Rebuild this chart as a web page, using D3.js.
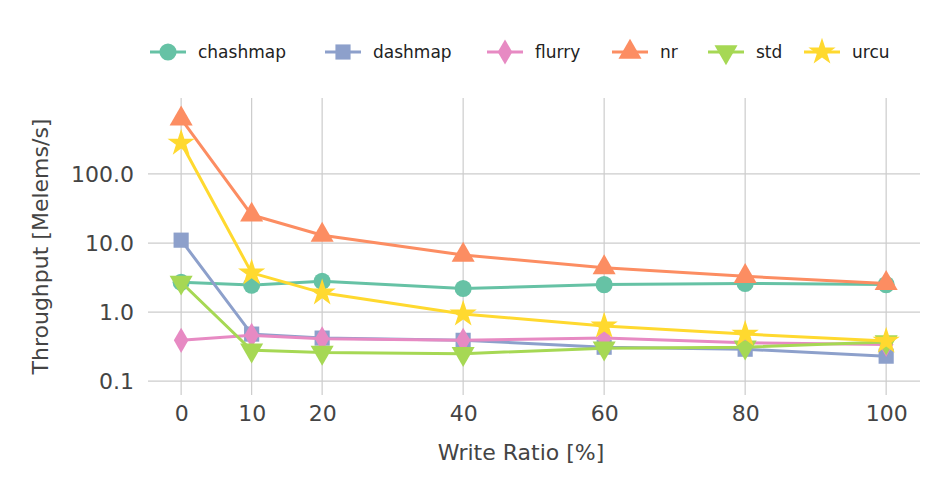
<!DOCTYPE html>
<html><head><meta charset="utf-8">
<script src="https://cdn.jsdelivr.net/npm/d3@7"></script>
<style>body{margin:0;background:#fff}text{font-family:"DejaVu Sans",sans-serif}</style>
</head><body><div id="chart"></div>
<script>
const ratios = [0, 10, 20, 40, 60, 80, 100];
const chashmap = [2.7, 2.46, 2.8, 2.2, 2.5, 2.6, 2.5];
const dashmap = [11, 0.48, 0.42, 0.39, 0.31, 0.29, 0.23];
const flurry = [0.39, 0.46, 0.41, 0.39, 0.42, 0.36, 0.34];
const nr = [630, 25.5, 13, 6.7, 4.4, 3.3, 2.6];
const std = [2.7, 0.28, 0.26, 0.25, 0.3, 0.31, 0.37];
const urcu = [280, 3.7, 1.9, 0.94, 0.63, 0.48, 0.38];
const yTicks = [0.1, 1, 10, 100];

const series = [
  {name: "chashmap", values: chashmap, color: "#66c2a5", sym: d3.symbolCircle},
  {name: "dashmap", values: dashmap, color: "#8da0cb", sym: d3.symbolSquare},
  {name: "flurry", values: flurry, color: "#e78ac3", sym: d3.symbolDiamond},
  {name: "nr", values: nr, color: "#fc8d62", sym: d3.symbolTriangle},
  {name: "std", values: std, color: "#a6d854", sym: "down"},
  {name: "urcu", values: urcu, color: "#ffd92f", sym: d3.symbolStar}
];

const width = 951, height = 494;
const margin = {top: 98, right: 31, bottom: 99, left: 148};
const svg = d3.select("#chart").append("svg").attr("width", width).attr("height", height);
const g = svg.append("g").attr("transform", `translate(${margin.left},${margin.top})`);
const w = width - margin.left - margin.right, h = height - margin.top - margin.bottom;

const x = d3.scaleLinear().domain([-4.7, 104.8]).range([0, w]);
const y = d3.scaleLog().domain([0.063, 1259]).range([h, 0]);

// grid
g.selectAll(".vg").data(ratios).join("line")
  .attr("x1", d => x(d)).attr("x2", d => x(d)).attr("y1", 0).attr("y2", h)
  .attr("stroke", "#cccccc").attr("stroke-width", 1.2);
g.selectAll(".hg").data(yTicks).join("line")
  .attr("x1", 0).attr("x2", w).attr("y1", d => y(d)).attr("y2", d => y(d))
  .attr("stroke", "#cccccc").attr("stroke-width", 1.2);

// axes
const xAxis = g.append("g").attr("transform", `translate(0,${h})`)
  .call(d3.axisBottom(x).tickValues(ratios).tickSize(0).tickPadding(10));
const yAxis = g.append("g")
  .call(d3.axisLeft(y).tickValues(yTicks).tickFormat(d3.format(".1f")).tickSize(0).tickPadding(14));
[xAxis, yAxis].forEach(a => {
  a.select(".domain").remove();
  a.selectAll("text").attr("font-size", 22).attr("fill", "#444");
});

svg.append("text").attr("x", margin.left + w / 2 - 13).attr("y", 460)
  .attr("text-anchor", "middle").attr("font-size", 22).attr("fill", "#444").text("Write Ratio [%]");
svg.append("text").attr("transform", `translate(48,${margin.top + h / 2})rotate(-90)`)
  .attr("text-anchor", "middle").attr("font-size", 22).attr("fill", "#444").text("Throughput [Melems/s]");

const line = d3.line().x((d, i) => x(ratios[i])).y(d => y(d));
function marker(sel, s, size) {
  if (s.sym === "down") {
    sel.append("path").attr("d", d3.symbol(d3.symbolTriangle, size)()).attr("transform", "rotate(180)");
  } else {
    sel.append("path").attr("d", d3.symbol(s.sym, s.sym === d3.symbolDiamond ? size * 0.8 : size)());
  }
  sel.selectAll("path").attr("fill", s.color);
}

series.forEach(s => {
  g.append("path").datum(s.values).attr("d", line)
    .attr("fill", "none").attr("stroke", s.color).attr("stroke-width", 3);
  s.values.forEach((v, i) => {
    const m = g.append("g").attr("transform", `translate(${x(ratios[i])},${y(v)})`);
    marker(m, s, 230);
  });
});

// legend
const legX = [150, 325, 487, 612, 708, 804];
series.forEach((s, i) => {
  const lg = svg.append("g").attr("transform", `translate(${legX[i]},52)`);
  lg.append("line").attr("x1", 0).attr("x2", 36).attr("stroke", s.color).attr("stroke-width", 3);
  const m = lg.append("g").attr("transform", "translate(18,0)");
  marker(m, s, 230);
  lg.append("text").attr("x", 48).attr("y", 6).attr("font-size", 17).attr("fill", "#222").text(s.name);
});
</script></body></html>
